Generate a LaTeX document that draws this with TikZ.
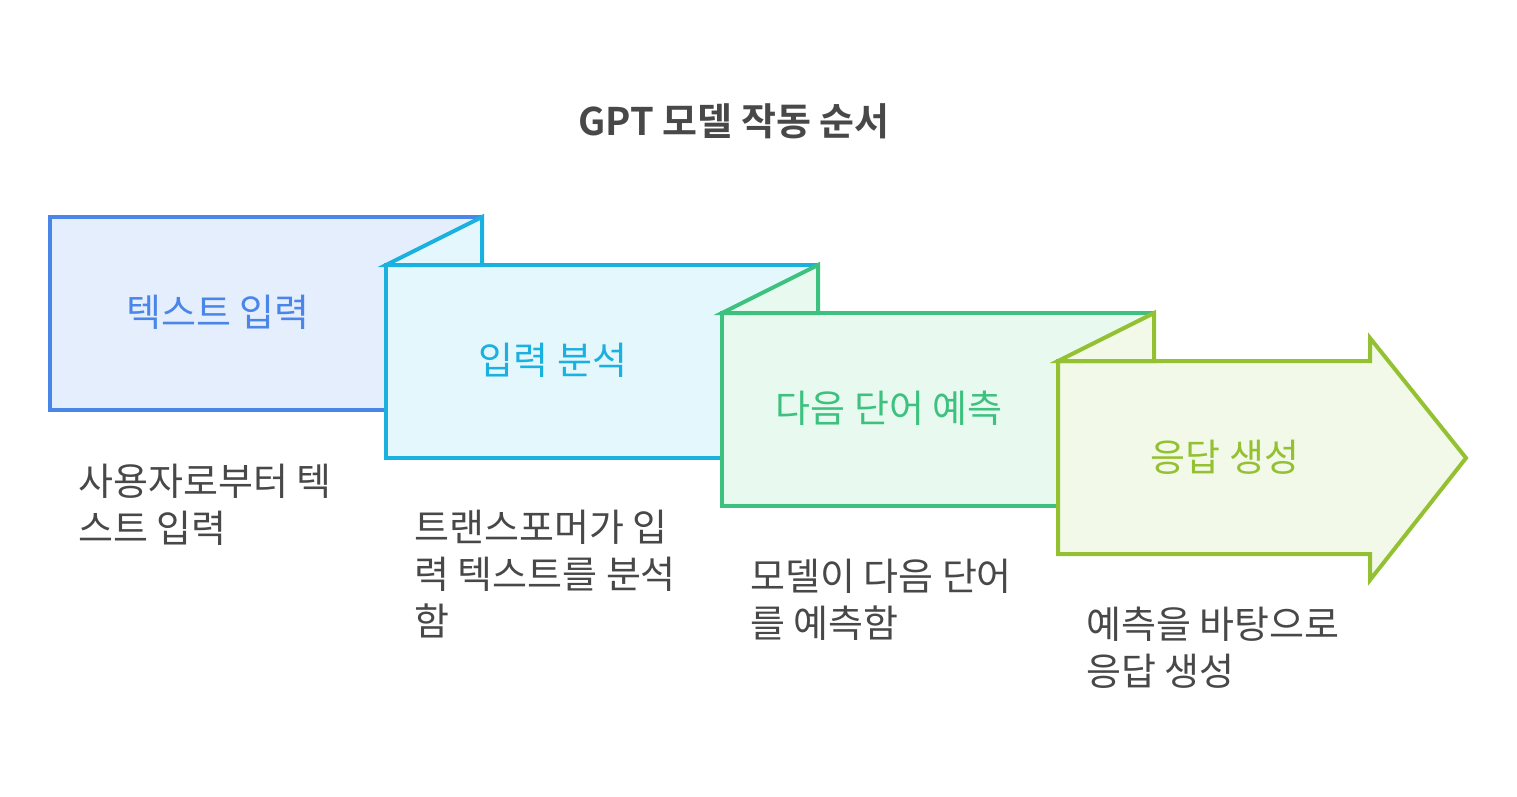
\documentclass[tikz,border=0pt]{standalone}
\usepackage{fontspec}
\setmainfont{Noto Sans CJK KR}
\newfontfamily\krbold{Noto Sans CJK KR Bold}
\definecolor{cBlue}{HTML}{4A86E8}
\definecolor{fBlue}{HTML}{E4EEFD}
\definecolor{cCyan}{HTML}{1AB0E0}
\definecolor{fCyan}{HTML}{E4F7FD}
\definecolor{cGreen}{HTML}{3CC27E}
\definecolor{fGreen}{HTML}{E8F9EF}
\definecolor{cLime}{HTML}{93C132}
\definecolor{fLime}{HTML}{F3F9E8}
\definecolor{txt}{HTML}{484848}
\tikzset{
  boxline/.style={line width=4pt, line join=miter},
  steplabel/.style={font=\fontsize{38}{44}\selectfont, inner sep=0pt},
  desc/.style={font=\fontsize{38}{47}\selectfont, text=txt, align=left, anchor=north west, inner sep=0pt},
}
\begin{document}
\begin{tikzpicture}[x=1pt,y=-1pt]
\useasboundingbox (0,0) rectangle (1517,796);
% title
\node[font=\krbold\fontsize{38}{44}\selectfont, text=txt, inner sep=0pt] (title) at (734,121) {GPT 모델 작동 순서};
% box 1
\draw[boxline, draw=cBlue, fill=fBlue] (50,217) rectangle (482,410);
% box 2
\draw[boxline, draw=cCyan, fill=fCyan] (386,265) rectangle (818,458);
\draw[boxline, draw=cCyan, fill=fCyan] (386,265) -- (482,217) -- (482,265) -- cycle;
% box 3
\draw[boxline, draw=cGreen, fill=fGreen] (722,313) rectangle (1154,506);
\draw[boxline, draw=cGreen, fill=fGreen] (722,313) -- (818,265) -- (818,313) -- cycle;
% box 4 arrow
\draw[boxline, draw=cLime, fill=fLime] (1058,361) -- (1370,361) -- (1370,338) -- (1466,458) -- (1370,580) -- (1370,554) -- (1058,554) -- cycle;
\draw[boxline, draw=cLime, fill=fLime] (1058,361) -- (1154,313) -- (1154,361) -- cycle;
% labels
\node[steplabel, text=cBlue] (l1) at (218,312) {텍스트 입력};
\node[steplabel, text=cCyan] (l2) at (553,360) {입력 분석};
\node[steplabel, text=cGreen] (l3) at (889,408) {다음 단어 예측};
\node[steplabel, text=cLime] (l4) at (1225,457) {응답 생성};
% descriptions
\node[desc] (d1) at (78,464) {사용자로부터 텍\\스트 입력};
\node[desc] (d2) at (414,510) {트랜스포머가 입\\력 텍스트를 분석\\함};
\node[desc] (d3) at (750,559) {모델이 다음 단어\\를 예측함};
\node[desc] (d4) at (1086,607) {예측을 바탕으로\\응답 생성};
\end{tikzpicture}
\end{document}
